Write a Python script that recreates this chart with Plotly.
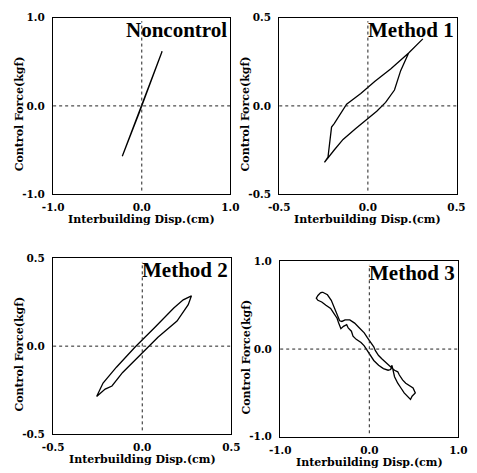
import plotly.graph_objects as go

W, H = 477, 473

# ---------------- data ----------------
nc_x = [-0.22, -0.12, -0.04, 0.02, 0.08, 0.15, 0.23, 0.16, 0.09, 0.03, -0.03, -0.11, -0.22]
nc_y = [-0.57, -0.31, -0.10, 0.06, 0.22, 0.40, 0.62, 0.42, 0.24, 0.08, -0.08, -0.29, -0.57]

m1_x = [0.31, 0.23, 0.13, 0.04, -0.04, -0.12, -0.19, -0.205, -0.225, -0.245,
        -0.19, -0.14, -0.07, -0.01, 0.05, 0.10, 0.15, 0.185, 0.23]
m1_y = [0.38, 0.30, 0.21, 0.14, 0.07, 0.01, -0.10, -0.12, -0.29, -0.32,
        -0.25, -0.19, -0.13, -0.08, -0.03, 0.02, 0.09, 0.20, 0.30]

m2_x = [-0.256, -0.24, -0.22, -0.145, -0.04, 0.07, 0.177, 0.23, 0.276,
        0.258, 0.195, 0.088, -0.002, -0.11, -0.17, -0.208, -0.256]
m2_y = [-0.287, -0.25, -0.21, -0.12, -0.005, 0.106, 0.217, 0.264, 0.287,
        0.236, 0.143, 0.051, -0.04, -0.15, -0.227, -0.245, -0.287]

m3_x = [-0.523, -0.470, -0.427, -0.391, -0.362, -0.333, -0.308, -0.272, -0.219, -0.165,
        -0.111, -0.057, -0.022, 0.014, 0.050, 0.068, 0.104, 0.140, 0.194, 0.247,
        0.283, 0.319, 0.337, 0.373, 0.409, 0.462, 0.491, 0.516,
        0.480, 0.462, 0.427, 0.391, 0.355, 0.319, 0.283, 0.265, 0.254, 0.240,
        0.211, 0.158, 0.104, 0.050, 0.014, -0.022, -0.057, -0.093, -0.147, -0.183,
        -0.201, -0.237, -0.254, -0.290, -0.319, -0.344, -0.362, -0.398, -0.434, -0.487,
        -0.534, -0.577, -0.595, -0.577, -0.548, -0.523]
m3_y = [0.648, 0.619, 0.556, 0.463, 0.389, 0.322, 0.315, 0.333, 0.333, 0.296,
        0.241, 0.185, 0.130, 0.074, 0.026, -0.019, -0.074, -0.111, -0.167, -0.211,
        -0.241, -0.259, -0.296, -0.352, -0.389, -0.426, -0.444, -0.500,
        -0.537, -0.574, -0.537, -0.500, -0.444, -0.389, -0.315, -0.241, -0.185, -0.233,
        -0.241, -0.222, -0.185, -0.130, -0.074, -0.019, 0.037, 0.074, 0.111, 0.148,
        0.204, 0.241, 0.278, 0.259, 0.233, 0.296, 0.352, 0.407, 0.463, 0.500,
        0.537, 0.556, 0.581, 0.611, 0.641, 0.648]

titles = ["Noncontrol", "Method 1", "Method 2", "Method 3"]
limits = [1.0, 0.5, 0.5, 1.0]
series = [(nc_x, nc_y), (m1_x, m1_y), (m2_x, m2_y), (m3_x, m3_y)]
x_title = "Interbuilding Disp.(cm)"
y_title = "Control Force(kgf)"

# ---------------- layout (pixel boxes) ----------------
boxes = [  # left, right, top, bottom in px
    (44, 229, 12, 193),
    (280, 465, 12, 193),
    (44, 230, 259, 439),
    (281, 467, 262, 442),
]

TICKFONT = dict(family="DejaVu Serif", size=10.5, color="black")
LABFONT = dict(family="DejaVu Serif", size=11, color="black")

fig = go.Figure()
layout = dict(width=W, height=H, margin=dict(l=0, r=0, t=0, b=0),
              paper_bgcolor="white", plot_bgcolor="white", showlegend=False)
annotations = []
shapes = []

for i, ((xs, ys), lim, ttl, (l, r, t, b)) in enumerate(zip(series, limits, titles, boxes)):
    n = "" if i == 0 else str(i + 1)
    xa, ya = "x" + n, "y" + n
    fig.add_trace(go.Scatter(x=xs, y=ys, mode="lines", xaxis=xa, yaxis=ya,
                             line=dict(color="black", width=1.3), hoverinfo="skip"))
    tv = [-lim, 0, lim]
    tt = ["<b>%.1f</b>" % v for v in tv]
    layout["xaxis" + n] = dict(domain=[l / W, r / W], range=[-lim, lim], anchor=ya,
                               tickvals=tv, ticktext=tt, ticks="", showgrid=False,
                               zeroline=False, showline=True, mirror=True,
                               linecolor="black", linewidth=1.4, tickfont=TICKFONT,
                               ticklabelstandoff=3)
    layout["yaxis" + n] = dict(domain=[1 - b / H, 1 - t / H], range=[-lim, lim], anchor=xa,
                               tickvals=tv, ticktext=tt, ticks="", showgrid=False,
                               zeroline=False, showline=True, mirror=True,
                               linecolor="black", linewidth=1.4, tickfont=TICKFONT,
                               ticklabelstandoff=5)
    # dotted reference lines at zero
    shapes.append(dict(type="line", xref=xa, yref=ya + " domain", x0=0, x1=0, y0=0.02, y1=0.98,
                       line=dict(color="#222", width=1, dash="dot")))
    shapes.append(dict(type="line", xref=xa + " domain", yref=ya, x0=0, x1=1, y0=0, y1=0,
                       line=dict(color="#222", width=1, dash="dot")))
    # panel title
    annotations.append(dict(text="<b>%s</b>" % ttl, xref=xa + " domain", yref=ya + " domain",
                            x=1, y=1, xanchor="right", yanchor="top", showarrow=False,
                            xshift=-1, yshift=2,
                            font=dict(family="Liberation Serif", size=21, color="black")))
    # axis titles
    annotations.append(dict(text="<b>%s</b>" % x_title, xref="paper", yref="paper",
                            x=(l + r) / 2 / W, y=1 - (b + 26) / H, xanchor="center",
                            yanchor="middle", showarrow=False, font=LABFONT))
    annotations.append(dict(text="<b>%s</b>" % y_title, xref="paper", yref="paper",
                            x=(l - 35) / W, y=1 - ((t + b) / 2 + 8) / H, xanchor="center",
                            yanchor="middle", textangle=-90, showarrow=False, font=LABFONT))

layout["annotations"] = annotations
layout["shapes"] = shapes
fig.update_layout(**layout)
fig.write_html("out.html")
